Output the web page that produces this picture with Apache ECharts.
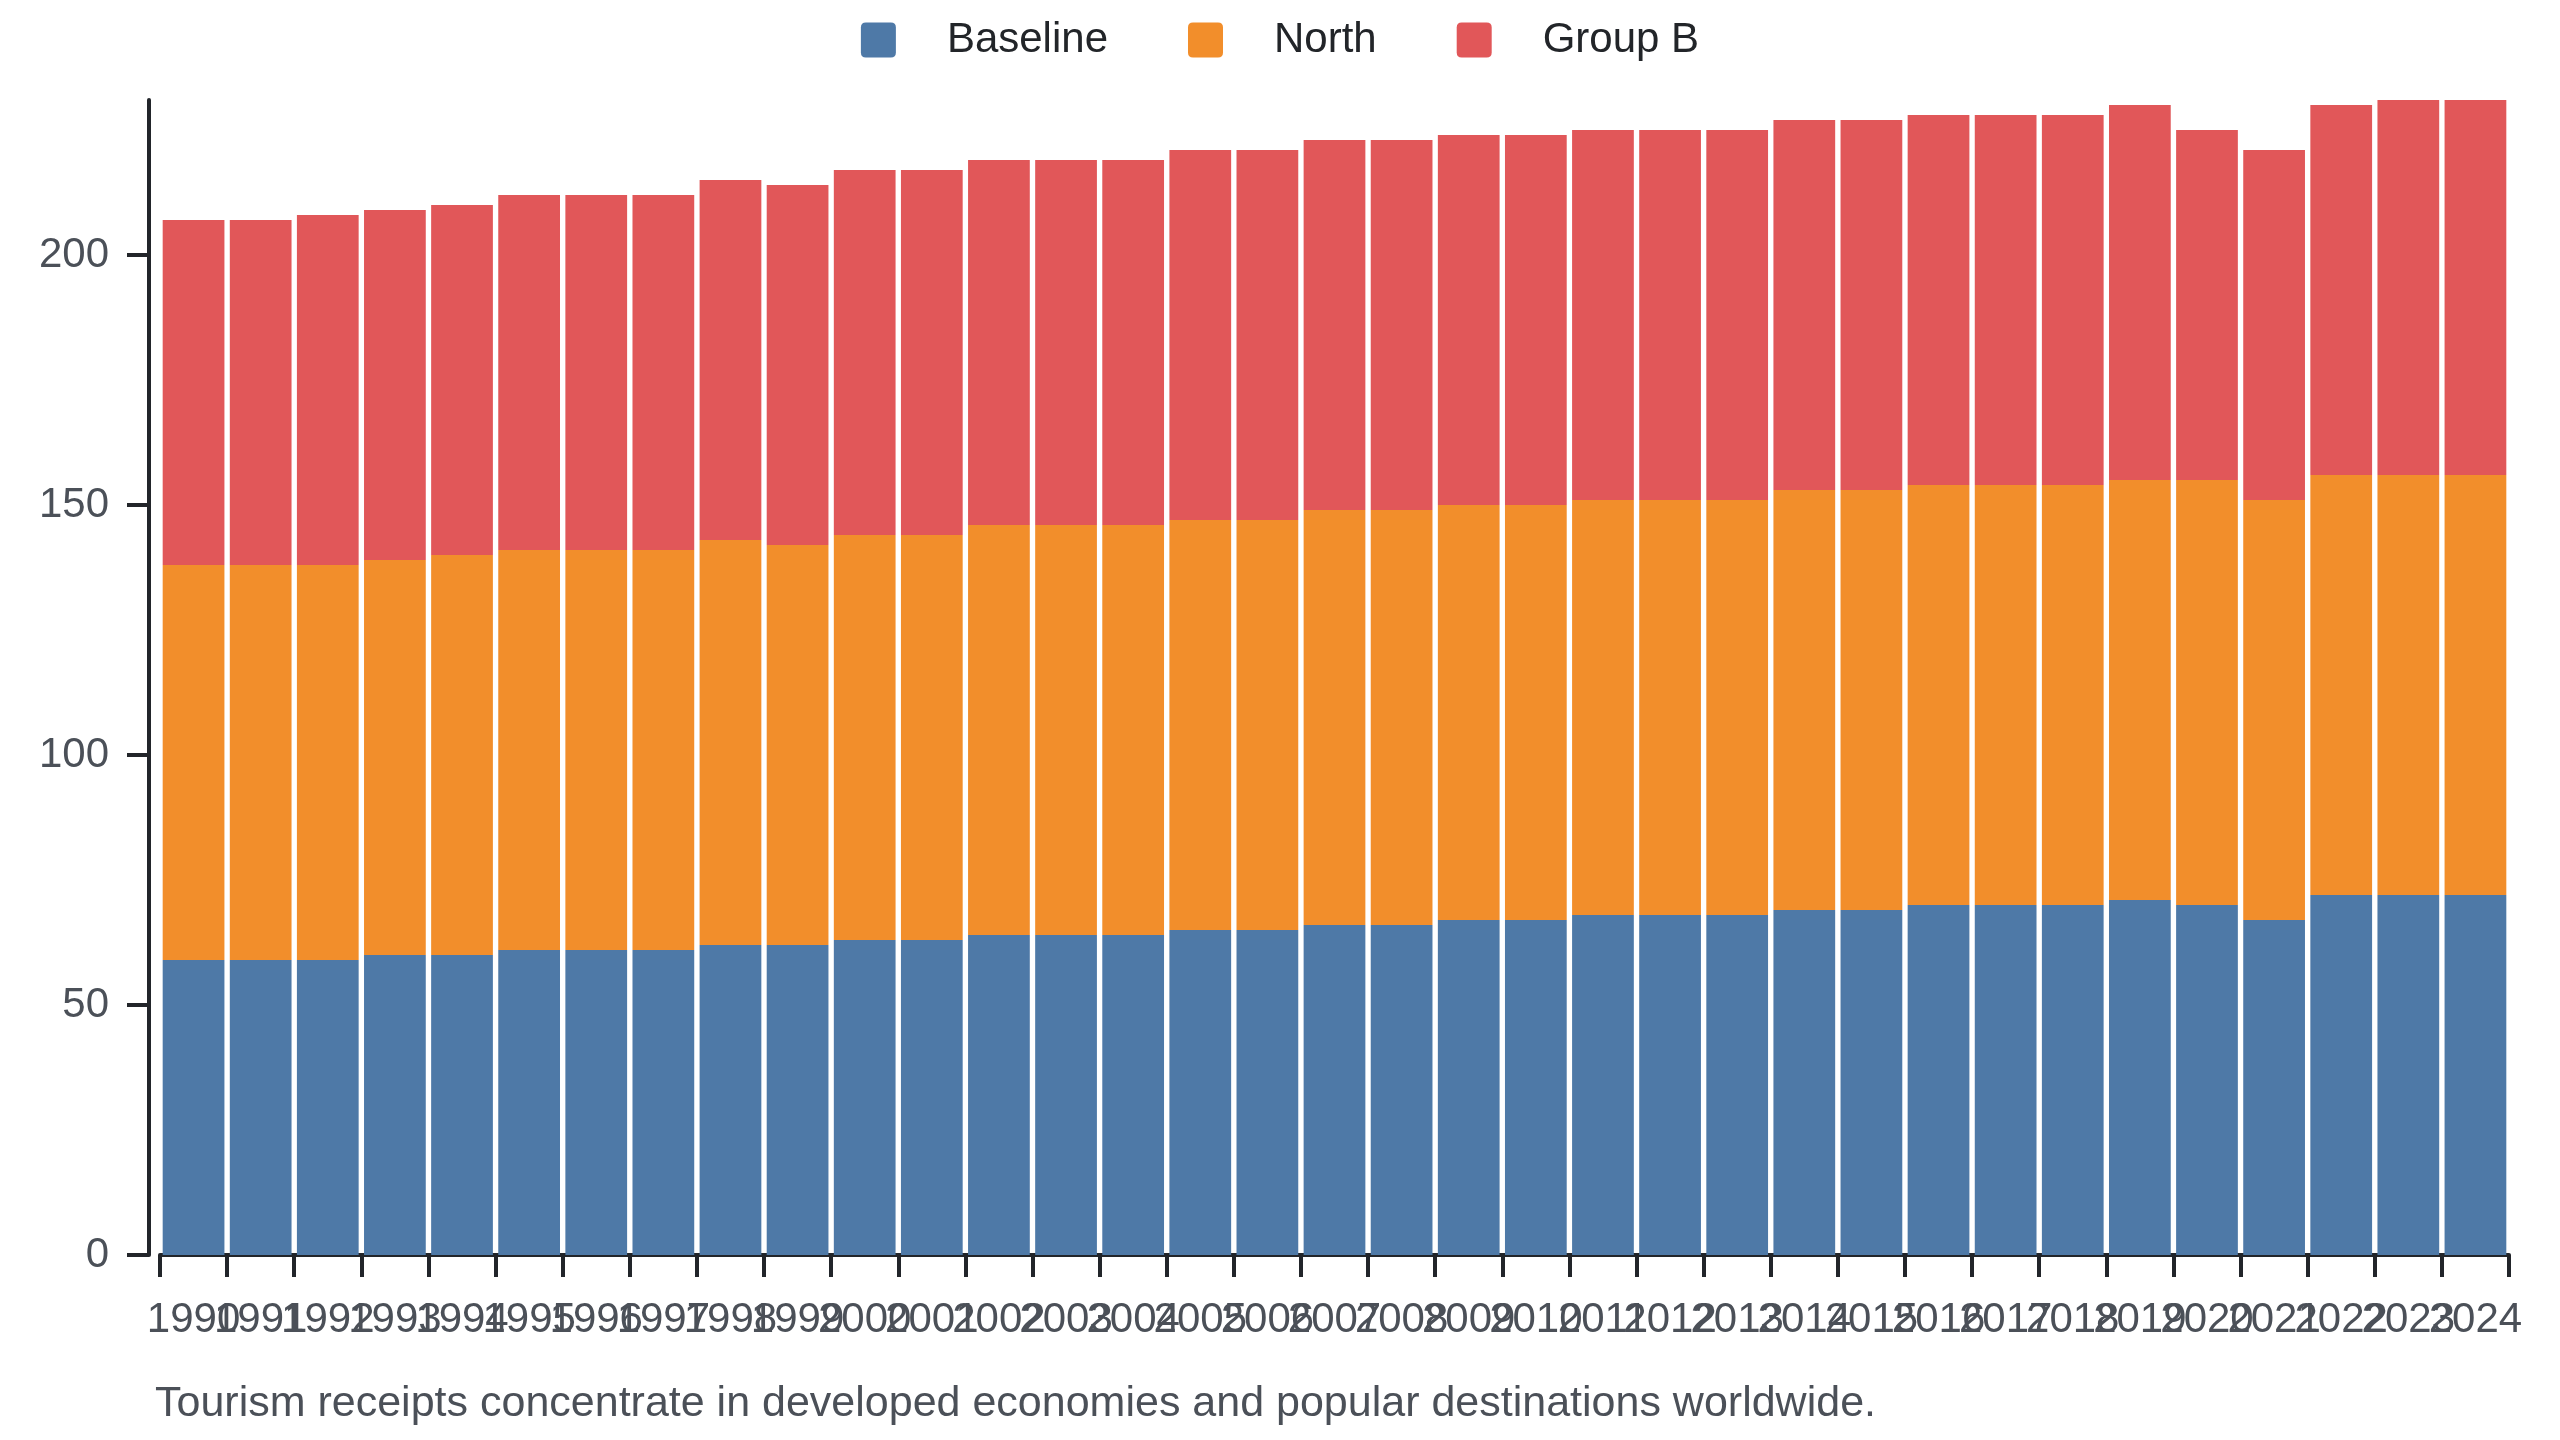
<!DOCTYPE html>
<html>
<head>
<meta charset="utf-8">
<script src="https://cdn.jsdelivr.net/npm/echarts@6/dist/echarts.min.js"></script>
<style>
  html, body { margin: 0; padding: 0; background: #fff; }
  #chart { width: 2560px; height: 1440px; }
</style>
</head>
<body>
<div id="chart"></div>
<script>
// years on the x axis
const years = ['1990', '1991', '1992', '1993', '1994', '1995', '1996', '1997', '1998', '1999',
    '2000', '2001', '2002', '2003', '2004', '2005', '2006', '2007', '2008', '2009',
    '2010', '2011', '2012', '2013', '2014', '2015', '2016', '2017', '2018', '2019',
    '2020', '2021', '2022', '2023', '2024'];

const baseline = [59, 59, 59, 60, 60, 61, 61, 61, 62, 62, 63, 63, 64, 64, 64, 65, 65, 66, 66, 67,
    67, 68, 68, 68, 69, 69, 70, 70, 70, 71, 70, 67, 72, 72, 72];
const north = [79, 79, 79, 79, 80, 80, 80, 80, 81, 80, 81, 81, 82, 82, 82, 82, 82, 83, 83, 83,
    83, 83, 83, 83, 84, 84, 84, 84, 84, 84, 85, 84, 84, 84, 84];
const groupB = [69, 69, 70, 70, 70, 71, 71, 71, 72, 72, 73, 73, 73, 73, 73, 74, 74, 74, 74, 74,
    74, 74, 74, 74, 74, 74, 74, 74, 74, 75, 70, 70, 74, 75, 75];

const yTicks = [0, 50, 100, 150, 200];

const note = 'Tourism receipts concentrate in developed economies and popular destinations worldwide.';

const font = '"Liberation Sans", Arial, sans-serif';
const axisColor = '#22252a';
const labelColor = '#4b5058';
// small rounded square for the legend
const legendIcon = 'path://M5,0 H30 Q35,0 35,5 V30 Q35,35 30,35 H5 Q0,35 0,30 V5 Q0,0 5,0 Z';

const chart = echarts.init(document.getElementById('chart'), null, { renderer: 'canvas' });

const option = {
    animation: false,
    textStyle: { fontFamily: font },
    color: ['#4e79a7', '#f28e2b', '#e15759'],
    title: {
        text: note,
        left: 150,
        top: 1378,
        textStyle: { fontSize: 43, fontWeight: 'normal', color: labelColor, fontFamily: font }
    },
    legend: {
        top: 14,
        left: 'center',
        icon: legendIcon,
        itemWidth: 35,
        itemHeight: 35,
        itemGap: 80,
        textStyle: { fontSize: 42, color: '#222529', fontFamily: font, padding: [0, 0, 0, 46] }
    },
    grid: {
        left: 160,
        right: 51,
        top: 100,
        bottom: 185,
        containLabel: false
    },
    xAxis: {
        type: 'category',
        data: years,
        axisLine: { show: true, lineStyle: { color: axisColor, width: 4 } },
        axisTick: { show: true, alignWithLabel: false, length: 22, lineStyle: { color: axisColor, width: 4 } },
        axisLabel: { interval: 0, fontSize: 42, color: labelColor, margin: 44, fontFamily: font },
        splitLine: { show: false }
    },
    yAxis: {
        type: 'value',
        min: 0,
        max: 231,
        interval: 50,
        offset: 11,
        axisLine: { show: true, lineStyle: { color: axisColor, width: 4 } },
        axisTick: { show: true, length: 22, customValues: yTicks, lineStyle: { color: axisColor, width: 4 } },
        axisLabel: { fontSize: 42, color: labelColor, margin: 40, customValues: yTicks, fontFamily: font },
        splitLine: { show: false }
    },
    series: [
        { name: 'Baseline', type: 'bar', stack: 'total', data: baseline, barCategoryGap: '8%' },
        { name: 'North', type: 'bar', stack: 'total', data: north, barCategoryGap: '8%' },
        { name: 'Group B', type: 'bar', stack: 'total', data: groupB, barCategoryGap: '8%' }
    ]
};

chart.setOption(option);
</script>
</body>
</html>
